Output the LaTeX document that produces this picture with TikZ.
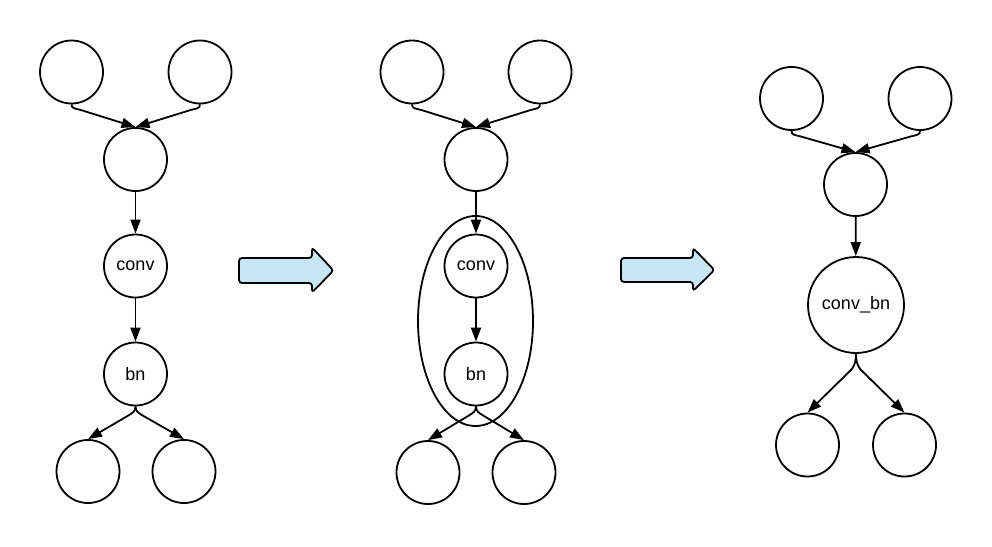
\documentclass[tikz,border=0pt]{standalone}
\usepackage{fontspec}
\setmainfont{Liberation Sans}
\usetikzlibrary{arrows.meta,shapes.geometric}
\definecolor{arrowblue}{RGB}{198,229,245}
\begin{document}
\begin{tikzpicture}[x=1pt,y=-1pt,
  every path/.style={line width=1.8pt},
  nd/.style={draw,circle,minimum size=63pt,inner sep=0pt,font=\fontsize{18pt}{20pt}\selectfont},
  big/.style={nd,minimum size=96pt},
  arr/.style={-{Triangle[length=14pt,width=10pt]},line width=1.8pt},
  blockarrow/.style={draw,fill=arrowblue,rounded corners=3pt,line width=1.8pt}]
\useasboundingbox (0,0) rectangle (992,546);
% left column
\node[nd] (lt1) at (71.5,72) {};
\node[nd] (lt2) at (200,72) {};
\node[nd] (lm) at (135.5,159.5) {};
\node[nd] (lc) at (135.5,266) {conv};
\node[nd] (lb) at (135.5,374) {bn};
\node[nd] (lb1) at (88,471.5) {};
\node[nd] (lb2) at (184,471.5) {};
\draw[arr] (lt1.south) .. controls +(0,4) and +(-6,-1.5) .. +(9,5.5) -- (lm.north);
\draw[arr] (lt2.south) .. controls +(0,4) and +(6,-1.5) .. +(-9,5.5) -- (lm.north);
\draw[arr] (lm) -- (lc);
\draw[arr] (lc) -- (lb);
\draw[arr] (lb.south) .. controls +(0,5) and +(4,-2.5) .. +(-7,9) -- (lb1.north);
\draw[arr] (lb.south) .. controls +(0,5) and +(-4,-2.5) .. +(7,9) -- (lb2.north);
% middle column
\node[nd] (mt1) at (412,72) {};
\node[nd] (mt2) at (540,72) {};
\node[nd] (mm) at (476,159.5) {};
\node[nd] (mc) at (476,266) {conv};
\node[nd] (mb) at (476,374) {bn};
\node[nd] (mb1) at (428,472.5) {};
\node[nd] (mb2) at (524,472.5) {};
\node[draw,ellipse,minimum width=115pt,minimum height=210pt,inner sep=0pt] (ell) at (475.5,321) {};
\draw[arr] (mt1.south) .. controls +(0,4) and +(-6,-1.5) .. +(9,5.5) -- (mm.north);
\draw[arr] (mt2.south) .. controls +(0,4) and +(6,-1.5) .. +(-9,5.5) -- (mm.north);
\draw[arr] (mm) -- (mc);
\draw[arr] (mc) -- (mb);
\draw[arr] (mb.south) .. controls +(0,5) and +(4,-2.5) .. +(-7,9) -- (mb1.north);
\draw[arr] (mb.south) .. controls +(0,5) and +(-4,-2.5) .. +(7,9) -- (mb2.north);
% right column
\node[nd] (rt1) at (791.5,98.5) {};
\node[nd] (rt2) at (920,98.5) {};
\node[nd] (rm) at (855.5,184.5) {};
\node[big] (rc) at (856,305) {conv\_bn};
\node[nd] (rb1) at (807.5,445) {};
\node[nd] (rb2) at (904.5,445) {};
\draw[arr] (rt1.south) .. controls +(0,4) and +(-6,-1.5) .. +(9,5.5) -- (rm.north);
\draw[arr] (rt2.south) .. controls +(0,4) and +(6,-1.5) .. +(-9,5.5) -- (rm.north);
\draw[arr] (rm) -- (rc);
\draw[arr] (rc.south) .. controls +(0,10) and +(5,-4) .. +(-8,19) -- (rb1.north);
\draw[arr] (rc.south) .. controls +(0,10) and +(-5,-4) .. +(8,19) -- (rb2.north);
% block arrows
\draw[blockarrow] (239,258) -- (312,258) -- (312,247.5) -- (333.5,270.5) -- (312,292.5) -- (312,283) -- (239,283) -- cycle;
\draw[blockarrow] (621,258) -- (693,258) -- (693,248) -- (714.5,270) -- (693,291) -- (693,282) -- (621,282) -- cycle;
\end{tikzpicture}
\end{document}
